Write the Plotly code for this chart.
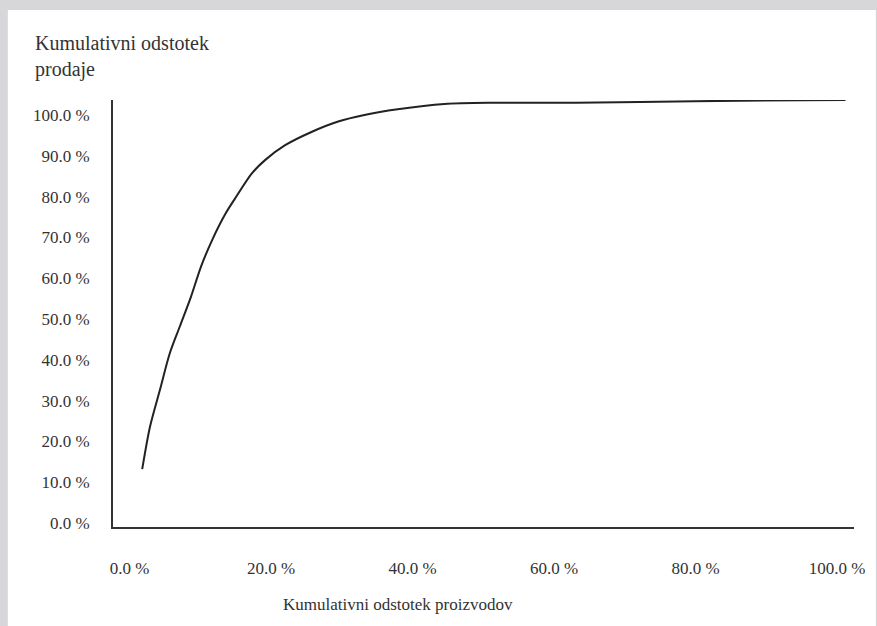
import plotly.graph_objects as go

# Data (cumulative % of products vs cumulative % of sales)
x_products = [1.8, 2.9, 4.3, 5.7, 7.1, 8.7, 10.1, 11.7, 13.6, 14.8, 17.3, 19.2, 22.0, 25.8,
              29.5, 33.2, 37.9, 44.5, 51.5, 63.1, 79.9, 101.2]
y_sales = [13.2, 23.6, 32.6, 41.6, 48.1, 55.5, 62.8, 69.4, 75.9, 79.2, 85.7, 89.0, 92.6, 95.9,
           98.4, 100.0, 101.4, 102.7, 103.0, 103.0, 103.4, 103.7]

x_ticks = [0, 20, 40, 60, 80, 100]
x_tick_labels = ["0.0 %", "20.0 %", "40.0 %", "60.0 %", "80.0 %", "100.0 %"]
y_ticks = [0, 10, 20, 30, 40, 50, 60, 70, 80, 90, 100]
y_tick_labels = ["0.0 %", "10.0 %", "20.0 %", "30.0 %", "40.0 %", "50.0 %",
                 "60.0 %", "70.0 %", "80.0 %", "90.0 %", "100.0 %"]

y_title = "Kumulativni odstotek<br>prodaje"
x_title = "Kumulativni odstotek proizvodov"

W, H = 877, 626
L, R, T, B = 113, 17, 100, 99
pw, ph = W - L - R, H - T - B

def px_x(p):
    return (p - L) / pw

def px_y(p):
    return (H - B - p) / ph

font_family = "'Times New Roman', 'Liberation Serif', 'DejaVu Serif', serif"
txt_color = "#333333"

fig = go.Figure()
fig.add_trace(go.Scatter(
    x=x_products, y=y_sales, mode="lines",
    line=dict(color="#222222", width=2, shape="spline", smoothing=0.8),
    hoverinfo="x+y", showlegend=False,
))

fig.update_layout(
    width=W, height=H,
    margin=dict(l=L, r=R, t=T, b=B, pad=0),
    paper_bgcolor="#d7d7d9",
    plot_bgcolor="white",
    font=dict(family=font_family, size=17, color=txt_color),
    showlegend=False,
    shapes=[dict(type="rect", xref="paper", yref="paper",
                 x0=px_x(7), x1=px_x(W + 5), y0=px_y(H + 5), y1=px_y(10),
                 fillcolor="white", line=dict(width=0), layer="below")],
    annotations=[
        dict(text=y_title, xref="paper", yref="paper", x=px_x(32), y=px_y(56),
             xanchor="left", yanchor="middle", align="left", showarrow=False,
             font=dict(family=font_family, size=20, color=txt_color)),
        dict(text=x_title, xref="paper", yref="paper", x=px_x(400), y=px_y(604),
             xanchor="center", yanchor="middle", showarrow=False,
             font=dict(family=font_family, size=17, color=txt_color)),
    ],
)

fig.update_xaxes(
    range=[(L - 129.6) / 7.133, (W - R - 129.6) / 7.133],
    tickvals=x_ticks, ticktext=x_tick_labels,
    showgrid=False, zeroline=False, showline=True, linecolor="#333333", linewidth=2,
    ticks="", ticklabelstandoff=25, tickfont=dict(family=font_family, size=17, color=txt_color),
    fixedrange=True,
)
fig.update_yaxes(
    range=[(523 - (H - B)) / 4.08, (523 - T) / 4.08],
    tickvals=y_ticks, ticktext=y_tick_labels,
    showgrid=False, zeroline=False, showline=True, linecolor="#333333", linewidth=2,
    ticks="", ticklabelstandoff=18, tickfont=dict(family=font_family, size=17, color=txt_color),
    fixedrange=True,
)

fig.write_html(
    "out.html",
    config={"displayModeBar": False},
    post_script="document.body.style.margin='0';document.body.style.overflow='hidden';",
)
